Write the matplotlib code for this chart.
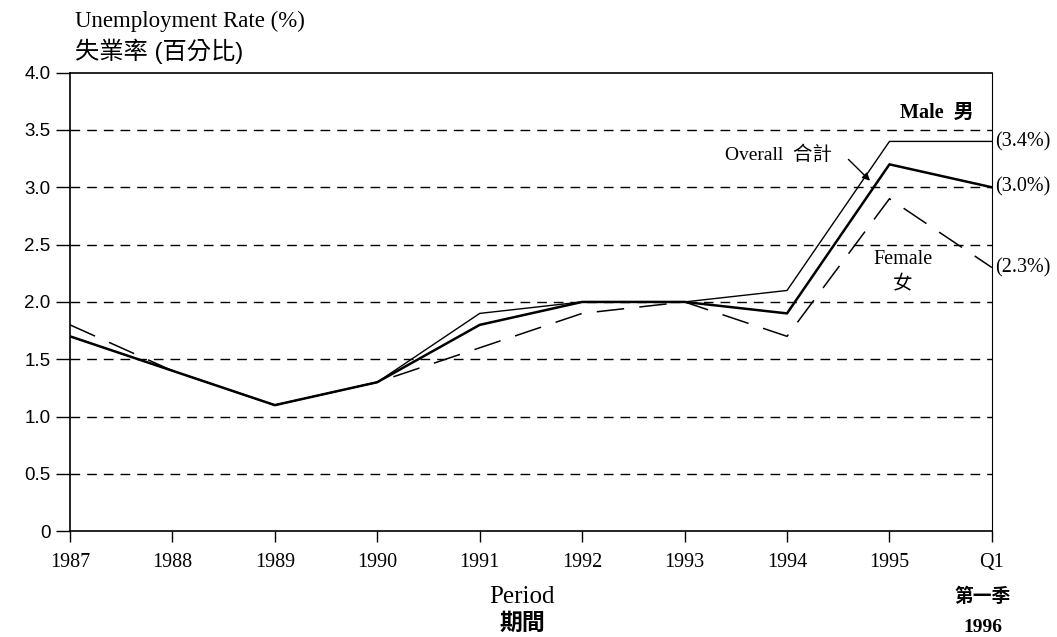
import matplotlib.pyplot as plt

periods = ["1987", "1988", "1989", "1990", "1991", "1992", "1993", "1994", "1995", "Q1"]
male = [1.7, 1.4, 1.1, 1.3, 1.9, 2.0, 2.0, 2.1, 3.4, 3.4]
overall = [1.7, 1.4, 1.1, 1.3, 1.8, 2.0, 2.0, 1.9, 3.2, 3.0]
female = [1.8, 1.4, 1.1, 1.3, 1.6, 1.9, 2.0, 1.7, 2.9, 2.3]
yticks = [0, 0.5, 1.0, 1.5, 2.0, 2.5, 3.0, 3.5, 4.0]
ylabels = ["0", "0.5", "1.0", "1.5", "2.0", "2.5", "3.0", "3.5", "4.0"]

serif = ["Liberation Serif", "DejaVu Serif"]
cjk = ["Liberation Serif", "Noto Sans CJK TC", "DejaVu Sans"]
sans_cjk = ["Liberation Sans", "Noto Sans CJK TC", "DejaVu Sans"]

fig = plt.figure(figsize=(10.57, 6.37), dpi=100)
ax = fig.add_axes([0.0662, 0.166, 0.8722, 0.72])

x = list(range(len(periods)))

# dashed reference lines
for v in yticks[1:-1]:
    ax.axhline(v, color="black", lw=1.0, ls=(0, (7, 5)), zorder=1)

ax.plot(x, male, color="black", lw=1.0, zorder=3)
ax.plot(x, overall, color="black", lw=1.8, zorder=3)
ax.plot(x, female, color="black", lw=1.1, ls=(0, (18, 10)), zorder=3)

ax.set_xlim(0, len(periods) - 1)
ax.set_ylim(0, 4.0)
ax.set_xticks(x)
ax.set_xticklabels(periods, family=serif, fontsize=14.5)
ax.set_yticks(yticks)
ax.set_yticklabels(ylabels, family=["Liberation Sans", "DejaVu Sans"], fontsize=13.5)
ax.tick_params(axis="y", direction="out", length=10, width=1.0, pad=4)
ax.tick_params(axis="x", direction="out", length=8, width=1.0, pad=8)

for s in ["left", "bottom", "top"]:
    ax.spines[s].set_linewidth(1.2)
ax.spines["right"].set_linewidth(0.8)

fig.text(0.071, 0.966, "Unemployment Rate (%)", family=serif, fontsize=16.5, va="center")
fig.text(0.071, 0.919, "失業率 (百分比)", family=sans_cjk, fontsize=17.5, va="center")

fig.text(0.494, 0.063, "Period", family=serif, fontsize=18, ha="center", va="center")
fig.text(0.494, 0.022, "期間", family=["Noto Sans CJK TC"], fontsize=16.5, ha="center", va="center",
         fontweight="bold")
fig.text(0.930, 0.063, "第一季", family=["Noto Sans CJK TC"], fontsize=13.5, ha="center", va="center",
         fontweight="bold")
fig.text(0.930, 0.015, "1996", family=serif, fontsize=14, ha="center", va="center", fontweight="bold")

ax.text(8.46, 3.65, "Male  男", family=cjk, fontsize=14.5, fontweight="bold", ha="center", va="center")
ax.text(7.44, 3.28, "Overall  合計", family=cjk, fontsize=14, ha="right", va="center")
ax.annotate("", xy=(7.83, 3.04), xytext=(7.58, 3.26),
            arrowprops=dict(arrowstyle="-|>", color="black", lw=1.0, mutation_scale=11))
ax.text(8.13, 2.37, "Female", family=serif, fontsize=14.5, ha="center", va="center")
ax.text(8.13, 2.16, "女", family=["Noto Sans CJK TC"], fontsize=14, ha="center", va="center")

ax.text(9.03, male[-1], "(3.4%)", family=serif, fontsize=14.5, va="center", clip_on=False)
ax.text(9.03, overall[-1], "(3.0%)", family=serif, fontsize=14.5, va="center", clip_on=False)
ax.text(9.03, female[-1], "(2.3%)", family=serif, fontsize=14.5, va="center", clip_on=False)

fig.savefig("out.png", dpi=100)
